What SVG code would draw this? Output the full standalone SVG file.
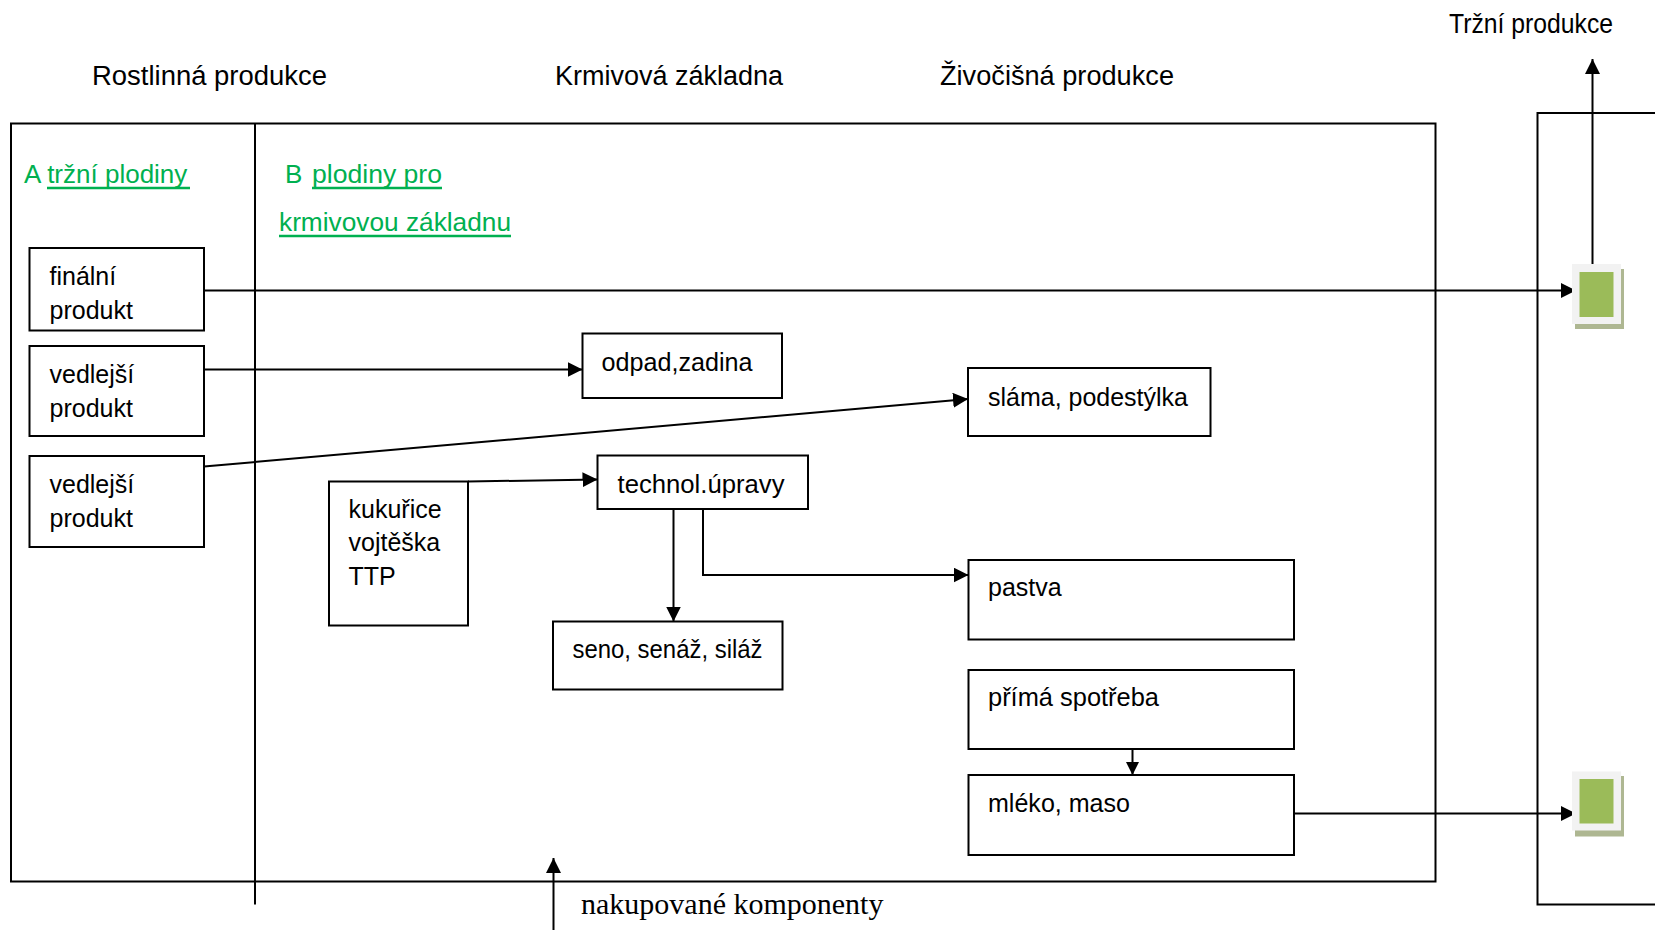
<svg xmlns="http://www.w3.org/2000/svg" width="1655" height="930" viewBox="0 0 1655 930">
  <style>
    .frame { fill: none; stroke: #000; stroke-width: 2; }
    .box { fill: #fff; stroke: #000; stroke-width: 2; }
    .lbl { font-family: "Liberation Sans", Arial, sans-serif; font-size: 25px; fill: #000; }
    .head { font-family: "Liberation Sans", Arial, sans-serif; font-size: 27px; fill: #000; }
    .green { font-family: "Liberation Sans", Arial, sans-serif; font-size: 26px; fill: #00B050; }
    .uline { stroke: #00B050; stroke-width: 2.5; }
    .serif { font-family: "Liberation Serif", "Times New Roman", serif; font-size: 30px; fill: #000; }
    .conn { fill: none; stroke: #000; stroke-width: 2; }
    .tile-shadow { fill: #AEB792; }
    .tile-mat { fill: #F2F2F2; }
    .tile-face { fill: #9BBB59; }
  </style>
  <defs>
    <marker id="arrow" markerUnits="userSpaceOnUse" markerWidth="16" markerHeight="15" refX="15" refY="7.5" orient="auto">
      <path d="M0,0 L15,7.5 L0,15 Z" fill="#000"/>
    </marker>
    <marker id="arrowSmall" markerUnits="userSpaceOnUse" markerWidth="14" markerHeight="13" refX="13" refY="6.5" orient="auto">
      <path d="M0,0 L13,6.5 L0,13 Z" fill="#000"/>
    </marker>
  </defs>

  <rect width="1655" height="930" fill="#fff"/>

  <!-- column headings -->
  <g id="headings">
    <text class="head" x="92" y="85" textLength="235" lengthAdjust="spacingAndGlyphs">Rostlinná produkce</text>
    <text class="head" x="555" y="85" textLength="228" lengthAdjust="spacingAndGlyphs">Krmivová základna</text>
    <text class="head" x="940" y="85" textLength="234" lengthAdjust="spacingAndGlyphs">Živočišná produkce</text>
    <text class="head" x="1449" y="33" font-size="26" textLength="164" lengthAdjust="spacingAndGlyphs">Tržní produkce</text>
  </g>

  <!-- farm frame, plant-production column divider and market frame -->
  <g id="frames">
    <rect class="frame" x="11" y="123.5" width="1424.5" height="758"/>
    <line class="frame" x1="255" y1="123.5" x2="255" y2="904.5"/>
    <path class="frame" d="M1655,113 H1537.5 V904.5 H1655"/>
  </g>

  <!-- section titles -->
  <g id="section-a">
    <text class="green" x="24" y="183">A <tspan>tržní plodiny</tspan></text>
    <line class="uline" x1="47" y1="188" x2="190" y2="188"/>
  </g>
  <g id="section-b">
    <text class="green" x="285" y="183">B</text>
    <text class="green" x="312" y="183" textLength="130" lengthAdjust="spacingAndGlyphs">plodiny pro</text>
    <line class="uline" x1="312" y1="188" x2="442" y2="188"/>
    <text class="green" x="279" y="231" textLength="232" lengthAdjust="spacingAndGlyphs">krmivovou základnu</text>
    <line class="uline" x1="279" y1="236" x2="511" y2="236"/>
  </g>

  <!-- connectors -->
  <g id="connectors">
    <line class="conn" x1="204" y1="290.5" x2="1576" y2="290.5" marker-end="url(#arrow)"/>
    <line class="conn" x1="204" y1="369.5" x2="582.5" y2="369.5" marker-end="url(#arrow)"/>
    <line class="conn" x1="204" y1="466.5" x2="968" y2="399" marker-end="url(#arrow)"/>
    <line class="conn" x1="468" y1="481.5" x2="597.5" y2="479.5" marker-end="url(#arrow)"/>
    <line class="conn" x1="673.5" y1="509" x2="673.5" y2="621.5" marker-end="url(#arrow)"/>
    <path class="conn" d="M703,509 V575 H968.5" marker-end="url(#arrow)"/>
    <line class="conn" x1="1132.5" y1="749" x2="1132.5" y2="775" marker-end="url(#arrowSmall)"/>
    <line class="conn" x1="1294" y1="813.5" x2="1576" y2="813.5" marker-end="url(#arrow)"/>
    <line class="conn" x1="1592.5" y1="268" x2="1592.5" y2="59" marker-end="url(#arrow)"/>
    <line class="conn" x1="553.5" y1="930" x2="553.5" y2="858" marker-end="url(#arrow)"/>
  </g>

  <!-- plant production -->
  <g id="node-finalni">
    <rect class="box" x="29.5" y="248" width="174.5" height="82.5"/>
    <text class="lbl" x="49.5" y="285">finální</text>
    <text class="lbl" x="49.5" y="319">produkt</text>
  </g>
  <g id="node-vedlejsi-1">
    <rect class="box" x="29.5" y="346" width="174.5" height="90"/>
    <text class="lbl" x="49.5" y="383">vedlejší</text>
    <text class="lbl" x="49.5" y="417">produkt</text>
  </g>
  <g id="node-vedlejsi-2">
    <rect class="box" x="29.5" y="456" width="174.5" height="91"/>
    <text class="lbl" x="49.5" y="493">vedlejší</text>
    <text class="lbl" x="49.5" y="527">produkt</text>
  </g>
  <g id="node-kukurice">
    <rect class="box" x="329" y="481.5" width="139" height="144"/>
    <text class="lbl" x="348.5" y="518">kukuřice</text>
    <text class="lbl" x="348.5" y="551">vojtěška</text>
    <text class="lbl" x="348.5" y="585">TTP</text>
  </g>

  <!-- feed base -->
  <g id="node-odpad">
    <rect class="box" x="582.5" y="333.5" width="199.5" height="64.5"/>
    <text class="lbl" x="601.5" y="371" textLength="151" lengthAdjust="spacingAndGlyphs">odpad,zadina</text>
  </g>
  <g id="node-technol">
    <rect class="box" x="597.5" y="455.5" width="210.5" height="53.5"/>
    <text class="lbl" x="617.5" y="493" textLength="167" lengthAdjust="spacingAndGlyphs">technol.úpravy</text>
  </g>
  <g id="node-seno">
    <rect class="box" x="553" y="621.5" width="229.5" height="68"/>
    <text class="lbl" x="572.5" y="658" textLength="190" lengthAdjust="spacingAndGlyphs">seno, senáž, siláž</text>
  </g>

  <!-- animal production -->
  <g id="node-slama">
    <rect class="box" x="968" y="368" width="242.5" height="68"/>
    <text class="lbl" x="988" y="406" textLength="200" lengthAdjust="spacingAndGlyphs">sláma, podestýlka</text>
  </g>
  <g id="node-pastva">
    <rect class="box" x="968.5" y="560" width="325.5" height="79.5"/>
    <text class="lbl" x="988" y="596">pastva</text>
  </g>
  <g id="node-prima">
    <rect class="box" x="968.5" y="670" width="325.5" height="79"/>
    <text class="lbl" x="988" y="706" textLength="171" lengthAdjust="spacingAndGlyphs">přímá spotřeba</text>
  </g>
  <g id="node-mleko">
    <rect class="box" x="968.5" y="775" width="325.5" height="80"/>
    <text class="lbl" x="988" y="812" textLength="142" lengthAdjust="spacingAndGlyphs">mléko, maso</text>
  </g>

  <!-- market output tiles -->
  <g id="tile-top">
    <rect class="tile-shadow" x="1575" y="269" width="49" height="60"/>
    <rect class="tile-mat" x="1572" y="264" width="49" height="60"/>
    <rect class="tile-face" x="1579.5" y="272" width="34" height="45"/>
  </g>
  <g id="tile-bottom">
    <rect class="tile-shadow" x="1575" y="776" width="49" height="60.5"/>
    <rect class="tile-mat" x="1572" y="771.5" width="49" height="59"/>
    <rect class="tile-face" x="1579.5" y="779" width="34" height="44.5"/>
  </g>

  <g id="label-nakupovane">
    <text class="serif" x="581" y="914">nakupované komponenty</text>
  </g>
</svg>
